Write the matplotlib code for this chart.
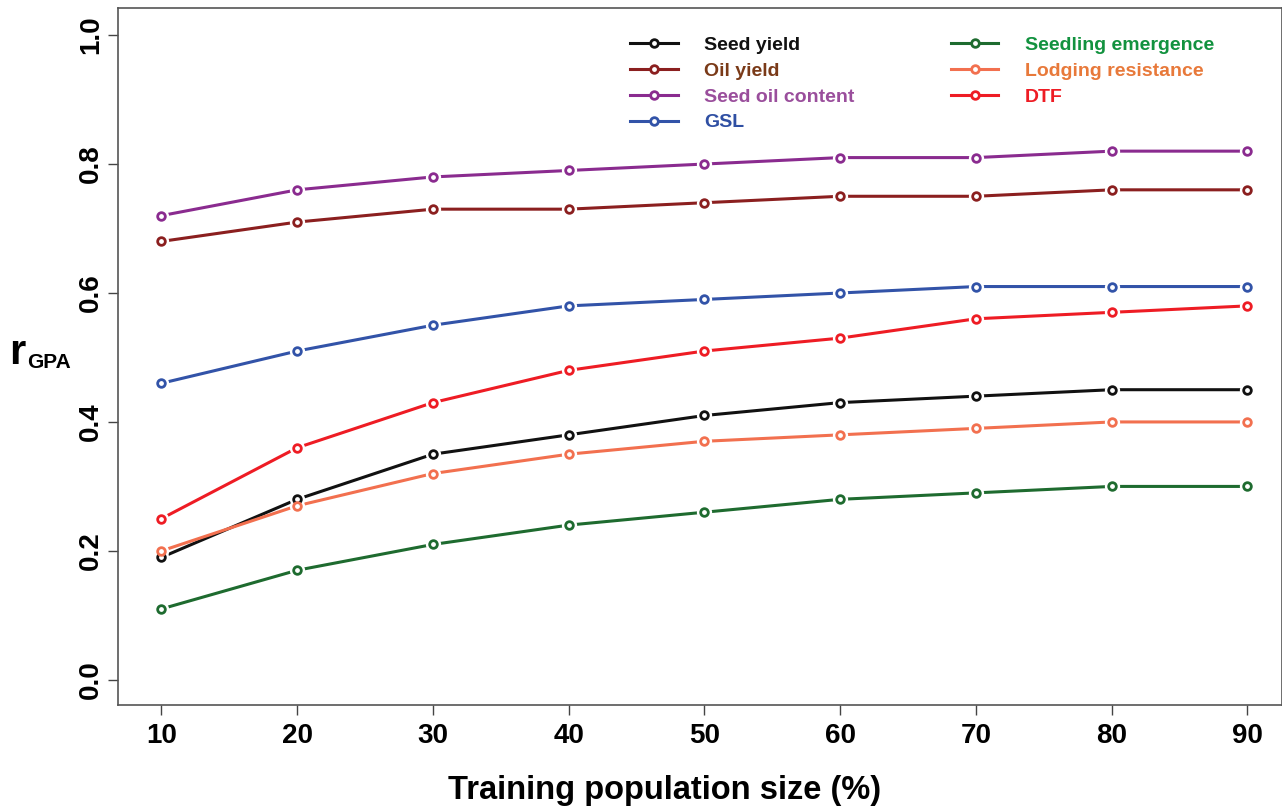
import matplotlib
matplotlib.use('Agg')
import matplotlib.pyplot as plt

plt.rcParams['font.family'] = ['Liberation Sans', 'DejaVu Sans']
plt.rcParams['font.weight'] = 'bold'

# training population size (%)
tp_size = [10, 20, 30, 40, 50, 60, 70, 80, 90]

seed_yield = [0.19, 0.28, 0.35, 0.38, 0.41, 0.43, 0.44, 0.45, 0.45]
oil_yield = [0.68, 0.71, 0.73, 0.73, 0.74, 0.75, 0.75, 0.76, 0.76]
seed_oil = [0.72, 0.76, 0.78, 0.79, 0.80, 0.81, 0.81, 0.82, 0.82]
gsl = [0.46, 0.51, 0.55, 0.58, 0.59, 0.60, 0.61, 0.61, 0.61]
seedling = [0.11, 0.17, 0.21, 0.24, 0.26, 0.28, 0.29, 0.30, 0.30]
lodging = [0.20, 0.27, 0.32, 0.35, 0.37, 0.38, 0.39, 0.40, 0.40]
dtf = [0.25, 0.36, 0.43, 0.48, 0.51, 0.53, 0.56, 0.57, 0.58]

names = ['Seed yield', 'Oil yield', 'Seed oil content', 'GSL',
         'Seedling emergence', 'Lodging resistance', 'DTF']
series = [seed_yield, oil_yield, seed_oil, gsl, seedling, lodging, dtf]
line_cols = ['#111111', '#8B1F1F', '#8A2B8F', '#3253A8',
             '#1E6B2F', '#F2704F', '#EE1C24']
text_cols = ['#111111', '#7A3A18', '#9A4E9C', '#2F4FA3',
             '#12923F', '#E8793A', '#EE1C24']

fig = plt.figure(figsize=(12.82, 8.10), dpi=100)
ax = fig.add_axes([118 / 1282, 1 - 705 / 810, 1 - 118 / 1282, (705 - 8) / 810])

handles = []
for y, c, n in zip(series, line_cols, names):
    h, = ax.plot(tp_size, y, color=c, lw=2.2, marker='o', ms=5.5,
                 mfc='white', mec=c, mew=2.0, label=n, zorder=3)
    # white halo to imitate R's type="b" gaps
    ax.plot(tp_size, y, ls='none', marker='o', ms=11, mfc='white',
            mec='none', zorder=3.5)
    ax.plot(tp_size, y, ls='none', marker='o', ms=5.5, mfc='white',
            mec=c, mew=2.0, zorder=4)
    handles.append(h)

ax.set_xlim(6.8, 92.55)
ax.set_ylim(-0.039, 1.042)
ax.set_xticks(tp_size)
ax.set_yticks([0.0, 0.2, 0.4, 0.6, 0.8, 1.0])
ax.set_yticklabels(['0.0', '0.2', '0.4', '0.6', '0.8', '1.0'],
                   rotation=90, va='center')
ax.tick_params(axis='both', labelsize=20, length=7, width=1.0,
               color='#444444', pad=6)
ax.tick_params(axis='y', pad=3)
for s in ax.spines.values():
    s.set_color('#555555')
    s.set_linewidth(1.2)

fig.text(665 / 1282, 1 - 790 / 810, 'Training population size (%)',
         fontsize=23.5, fontweight='bold', ha='center', va='center')
fig.text(9 / 1282, 1 - 364 / 810, 'r', fontsize=30, fontweight='bold',
         ha='left', va='baseline')
fig.text(27 / 1282, 1 - 368 / 810, 'GPA', fontsize=15, fontweight='bold',
         ha='left', va='baseline')

leg = ax.legend(handles=handles, ncol=2, frameon=False, fontsize=14,
                loc='upper left', bbox_to_anchor=(0.425, 0.985),
                handlelength=2.45, columnspacing=4.95, labelspacing=0.43,
                handletextpad=1.35)
for t, c in zip(leg.get_texts(), text_cols):
    t.set_color(c)

fig.savefig('out.png', dpi=100)
